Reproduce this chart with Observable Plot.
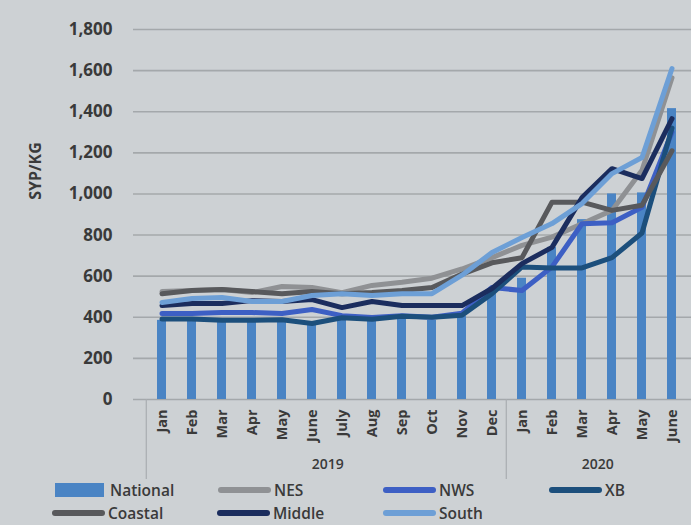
<!DOCTYPE html>
<html><head><meta charset="utf-8">
<script src="https://cdn.jsdelivr.net/npm/d3@7"></script>
<script src="https://cdn.jsdelivr.net/npm/@observablehq/plot@0.6"></script>
<style>
html,body{margin:0;padding:0;background:#cdd1d4;overflow:hidden;}
#wrap{position:relative;width:691px;height:525px;}
#legend{position:absolute;left:0;top:0;width:691px;height:525px;pointer-events:none;font-family:"Open Sans",sans-serif;font-weight:600;font-size:15.5px;line-height:16px;color:#3a3a3a;}
.item{position:absolute;display:flex;align-items:center;height:16px;}
.sw{display:inline-block;margin-right:3px;}
#ylab{position:absolute;left:35px;top:171px;transform:translate(-50%,-50%) rotate(-90deg);font-family:"Open Sans",sans-serif;font-weight:700;font-size:16px;line-height:18px;color:#3a3a3a;white-space:nowrap;}
</style></head><body><div id="wrap"><div id="chart"></div><div id="legend"></div><div id="ylab"></div></div>
<script>
const months = ["Jan","Feb","Mar","Apr","May","June","July","Aug","Sep","Oct","Nov","Dec","Jan","Feb","Mar","Apr","May","June"];
const years = ["2019","2019","2019","2019","2019","2019","2019","2019","2019","2019","2019","2019","2020","2020","2020","2020","2020","2020"];
const national = [385,385,385,385,385,370,385,385,395,385,405,515,590,740,875,1000,1005,1415];
const nes     = [525,530,535,520,550,545,520,555,570,590,635,690,750,790,855,920,1115,1565];
const nws     = [418,418,423,423,418,438,408,399,408,400,420,545,530,645,855,860,935,1300];
const xb      = [392,392,385,385,388,370,398,390,405,400,410,515,645,640,640,690,810,1320];
const coastal = [515,530,535,525,515,525,515,520,530,545,610,665,690,960,960,920,945,1210];
const middle  = [457,467,467,481,477,486,447,477,457,457,457,540,661,740,982,1123,1075,1366];
const south   = [472,491,496,477,477,506,515,506,515,515,605,715,788,856,953,1099,1177,1610];
const seriesNames = ["National","NES","NWS","XB","Coastal","Middle","South"];
const seriesColors = ["#4a84c4","#8f9194","#3d5fc4","#1c4f7c","#58595c","#1b2d5e","#6d9fd6"];
const yTicks = [0,200,400,600,800,1000,1200,1400,1600,1800];
const yTitle = "SYP/KG";
const yearLabels = [{year:"2019", at:"2019-June"},{year:"2020", at:"2020-Mar"}];
const yearStarts = ["2019-Jan","2020-Jan"];

const keys = months.map((m,i)=>years[i]+"-"+m);
const bars = keys.map((k,i)=>({key:k, value:national[i]}));
const lineSeries = {NES:nes, NWS:nws, XB:xb, Coastal:coastal, Middle:middle, South:south};
const lines = [];
for (const [name, vals] of Object.entries(lineSeries)) vals.forEach((v,i)=>lines.push({series:name, key:keys[i], value:v}));

const W = 691, H = 482, ML = 133, MT = 29, MB = 83;
const x0 = 133, x1 = 699;
const step = (x1 - x0) / keys.length;
const font = "Open Sans, sans-serif";

const chart = Plot.plot({
  width: W, height: H,
  marginLeft: ML, marginRight: 0, marginTop: MT, marginBottom: MB,
  style: {background: "transparent", fontFamily: font, color: "#3a3a3a"},
  x: {domain: keys, range: [x0, x1], padding: 0.7, align: 0.5},
  y: {domain: [0, 1800]},
  color: {domain: seriesNames, range: seriesColors},
  marks: [
    Plot.gridY(yTicks, {stroke: "#a4a8ab", strokeOpacity: 1, strokeWidth: 1.6}),
    Plot.axisY(yTicks, {tickSize: 0, tickPadding: 21, tickFormat: d3.format(","), fontSize: 17, fontWeight: 700, label: null}),
    Plot.axisX({tickSize: 0, tickPadding: 10, tickRotate: -90, tickFormat: k => k.split("-")[1], fontSize: 14.5, fontWeight: 700, label: null}),
    Plot.ruleX(yearStarts, {x: d => d, dx: -step/2, insetTop: 399 - MT, insetBottom: -80, stroke: "#a9adb0", strokeWidth: 1.2}),
    Plot.text(yearLabels, {x: "at", text: "year", dx: step/2, frameAnchor: "bottom", dy: 69, fontSize: 14, fontWeight: 600, fill: "#3a3a3a"}),
    Plot.barY(bars, {x: "key", y: "value", fill: "#4a84c4"}),
    Plot.line(lines, {x: "key", y: "value", z: "series", stroke: "series", strokeWidth: 5, strokeLinejoin: "round", strokeLinecap: "round"})
  ]
});
document.getElementById("chart").appendChild(chart);
document.getElementById("ylab").textContent = yTitle;

// legend (HTML, below the plot area)
const legendPos = [
  {name:"National", left:55, top:482, type:"bar"},
  {name:"NES", left:218, top:482},
  {name:"NWS", left:383, top:482},
  {name:"XB", left:549, top:482},
  {name:"Coastal", left:52, top:505},
  {name:"Middle", left:217, top:505},
  {name:"South", left:383, top:505}
];
const lg = document.getElementById("legend");
legendPos.forEach(p => {
  const c = seriesColors[seriesNames.indexOf(p.name)];
  const d = document.createElement("div");
  d.className = "item";
  d.style.left = p.left + "px"; d.style.top = p.top + "px";
  const sw = document.createElement("span");
  sw.className = "sw";
  sw.style.background = c;
  if (p.type === "bar") { sw.style.width = "49px"; sw.style.height = "14px"; sw.style.marginRight = "6px"; }
  else { sw.style.width = "53px"; sw.style.height = "6px"; sw.style.borderRadius = "3px"; }
  d.appendChild(sw);
  const t = document.createElement("span");
  t.textContent = p.name;
  d.appendChild(t);
  lg.appendChild(d);
});
</script></body></html>
